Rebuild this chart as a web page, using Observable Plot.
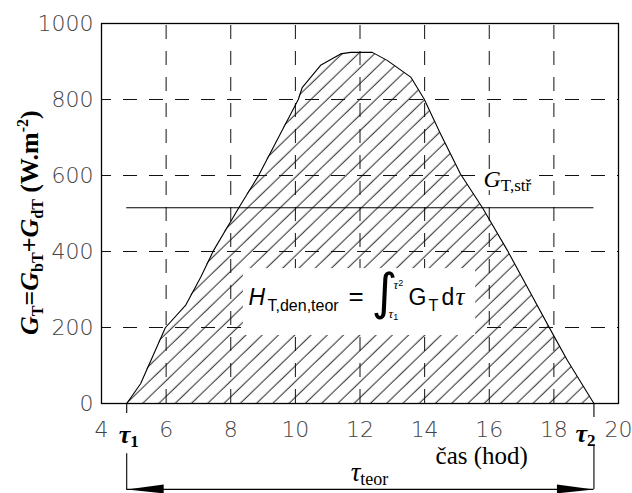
<!DOCTYPE html>
<html><head><meta charset="utf-8">
<script src="https://cdn.jsdelivr.net/npm/d3@7"></script>
<script src="https://cdn.jsdelivr.net/npm/@observablehq/plot@0.6"></script>
<style>body{margin:0;background:#fff;overflow:hidden}</style>
</head><body><div id="chart"></div>
<script>
// --- data ---
const hours = [4.78, 5.21, 5.98, 6.6, 7.07, 7.47, 8.25, 8.87, 9.5, 10.09, 10.21, 10.78, 11.4, 11.71, 12.38, 12.84, 13.57, 13.98, 14.49, 15.11, 15.79, 16.56, 17.18, 17.85, 18.42, 19.24];
const irradiance = [0, 52, 200, 258, 332, 403, 515, 601, 704, 800, 831, 890, 920, 924, 924, 903, 859, 802, 710, 604, 515, 403, 306, 201, 113, 0];
const meanIrradiance = [515];
const tau1 = 4.78;
const tau2 = 19.24;
const xTicks = [4, 6, 8, 10, 12, 14, 16, 18, 20];
const yTicks = [0, 200, 400, 600, 800, 1000];
const xGrid = [6, 8, 10, 12, 14, 16, 18];
const yGrid = [200, 400, 600, 800];
const arrowLevel = [-226];
const tauLines = [
  {t: tau1, from: 0, to: -26},
  {t: tau1, from: -132, to: -226},
  {t: tau2, from: 0, to: -37},
  {t: tau2, from: -110, to: -226}
];
// white boxes behind the in-plot annotations
const labelBoxes = [
  {x1: 8.39, x2: 15.58, y1: 179, y2: 355},
  {x1: 15.8, x2: 17.5, y1: 560, y2: 612}
];

const curve = hours.map((h, i) => ({h, g: irradiance[i]}));

const rightHead = {draw(c) { c.moveTo(0, 0); c.lineTo(-37, -5); c.lineTo(-37, 4); c.closePath(); }};
const leftHead = {draw(c) { c.moveTo(0, 0); c.lineTo(37, -5); c.lineTo(37, 4); c.closePath(); }};

const serif = "Liberation Serif";
const sans = "Liberation Sans";

const plot = Plot.plot({
  width: 632,
  height: 493,
  marginLeft: 101,
  marginRight: 14,
  marginTop: 23,
  marginBottom: 90,
  style: {fontFamily: "DejaVu Sans", fontSize: "22px", fontWeight: 200, color: "#444", background: "white", overflow: "visible"},
  x: {domain: [4, 20], ticks: xTicks, tickSize: 0, tickPadding: 18, tickFormat: d => String(d), label: null},
  y: {domain: [0, 1000], ticks: yTicks, tickSize: 0, tickPadding: 8, tickFormat: d => String(d), label: null},
  marks: [
    Plot.areaY(curve, {x: "h", y: "g", fill: "url(#hatch)"}),
    Plot.ruleX(xGrid, {stroke: "#111", strokeWidth: 1, strokeDasharray: "14,12", strokeDashoffset: 24}),
    Plot.ruleY(yGrid, {stroke: "#111", strokeWidth: 1, strokeDasharray: "14,12", strokeDashoffset: 4}),
    Plot.rect(labelBoxes, {x1: "x1", x2: "x2", y1: "y1", y2: "y2", fill: "white"}),
    Plot.line(curve, {x: "h", y: "g", stroke: "black", strokeWidth: 1.1}),
    Plot.ruleY(meanIrradiance, {x1: tau1, x2: tau2, stroke: "black", strokeWidth: 1.1}),
    Plot.frame({stroke: "black", strokeWidth: 1.3}),
    Plot.ruleX(tauLines, {x: "t", y1: "from", y2: "to", stroke: "black", strokeWidth: 1.1}),
    Plot.ruleY(arrowLevel, {x1: tau1, x2: tau2, stroke: "black", strokeWidth: 1.3}),
    Plot.dot(arrowLevel, {x: tau2, y: d => d, symbol: rightHead, fill: "black", stroke: "none"}),
    Plot.dot(arrowLevel, {x: tau1, y: d => d, symbol: leftHead, fill: "black", stroke: "none"}),
    Plot.text(["§ylab"], {x: 2.05, y: 476, rotate: -90, textAnchor: "middle", lineAnchor: "bottom", fill: "black"}),
    Plot.text(["§gstr"], {x: 15.82, y: 571, textAnchor: "start", lineAnchor: "bottom", fill: "black"}),
    Plot.text(["§form"], {x: 8.55, y: 258, textAnchor: "start", lineAnchor: "bottom", fill: "black"}),
    Plot.text(["§tau1"], {x: 4.53, y: -105, textAnchor: "start", lineAnchor: "bottom", fill: "black"}),
    Plot.text(["§tau2"], {x: 18.67, y: -100, textAnchor: "start", lineAnchor: "bottom", fill: "black"}),
    Plot.text(["§cas"], {x: 14.34, y: -158, textAnchor: "start", lineAnchor: "bottom", fill: "black"}),
    Plot.text(["§teor"], {x: 11.71, y: -203, textAnchor: "start", lineAnchor: "bottom", fill: "black"})
  ]
});

document.getElementById("chart").appendChild(plot);

// hatch pattern definition
const svg = d3.select(plot);
const defs = svg.insert("defs", ":first-child");
const pat = defs.append("pattern").attr("id", "hatch").attr("patternUnits", "userSpaceOnUse")
  .attr("width", 11.3).attr("height", 11.3).attr("patternTransform", "rotate(46)");
pat.append("line").attr("x1", 5).attr("y1", -1).attr("x2", 5).attr("y2", 12.3)
  .attr("stroke", "black").attr("stroke-width", 0.85);

function richText(key, segs) {
  svg.selectAll("text").filter(function () { return this.textContent === key; }).each(function () {
    const t = d3.select(this);
    const x0 = +(t.attr("x") || 0);
    t.text(null);
    let prev = 0;
    for (const s of segs) {
      const sp = t.append("tspan").text(s.t);
      const sh = s.sh || 0;
      if (sh !== prev) sp.attr("dy", sh - prev);
      prev = sh;
      if (s.x != null) sp.attr("x", x0 + s.x);
      sp.attr("font-size", s.fs)
        .attr("font-style", s.it ? "italic" : "normal")
        .attr("font-weight", s.b ? "bold" : "normal")
        .attr("font-family", s.ff);
    }
  });
}

richText("§ylab", [
  {t: "G", it: 1, b: 1, fs: 26, ff: serif},
  {t: "T", b: 1, fs: 16, sh: 5, ff: serif},
  {t: "=", b: 1, fs: 26, ff: serif},
  {t: "G", it: 1, b: 1, fs: 26, ff: serif},
  {t: "bT", b: 1, fs: 16, sh: 5, ff: serif},
  {t: "+", b: 1, fs: 26, ff: serif},
  {t: "G", it: 1, b: 1, fs: 26, ff: serif},
  {t: "dT", b: 1, fs: 16, sh: 5, ff: serif},
  {t: " (W.m", b: 1, fs: 26, ff: serif},
  {t: "-2", b: 1, fs: 16, sh: -10, ff: serif},
  {t: ")", b: 1, fs: 26, ff: serif}
]);

richText("§gstr", [
  {t: "G", it: 1, fs: 24, ff: serif},
  {t: "T,stř", fs: 17, sh: 4, ff: serif}
]);

richText("§form", [
  {t: "H", it: 1, fs: 23, ff: sans, x: 0},
  {t: "T,den,teor", fs: 16, sh: 6, ff: sans, x: 19},
  {t: "=", fs: 26, ff: sans, x: 100},
  {t: "∫", fs: 50, sh: 4, ff: "DejaVu Sans", x: 123},
  {t: "τ", it: 1, fs: 13, sh: -16, ff: serif, x: 145},
  {t: "2", fs: 9, sh: -19, ff: sans},
  {t: "τ", it: 1, fs: 13, sh: 13, ff: serif, x: 140},
  {t: "1", fs: 9, sh: 15, ff: sans},
  {t: "G", fs: 23, ff: sans, x: 160},
  {t: "T", fs: 16, sh: 6, ff: sans, x: 180},
  {t: "d", fs: 23, ff: sans, x: 193},
  {t: "τ", it: 1, fs: 25, ff: serif, x: 207}
]);

richText("§tau1", [
  {t: "τ", it: 1, b: 1, fs: 26, ff: serif},
  {t: "1", b: 1, fs: 17, sh: 4, ff: serif}
]);
richText("§tau2", [
  {t: "τ", it: 1, b: 1, fs: 26, ff: serif},
  {t: "2", b: 1, fs: 17, sh: 4, ff: serif}
]);
richText("§cas", [
  {t: "čas (hod)", fs: 25, ff: serif}
]);
richText("§teor", [
  {t: "τ", it: 1, fs: 27, ff: serif},
  {t: "teor", fs: 18, sh: 4, ff: serif}
]);
</script>
</body></html>
